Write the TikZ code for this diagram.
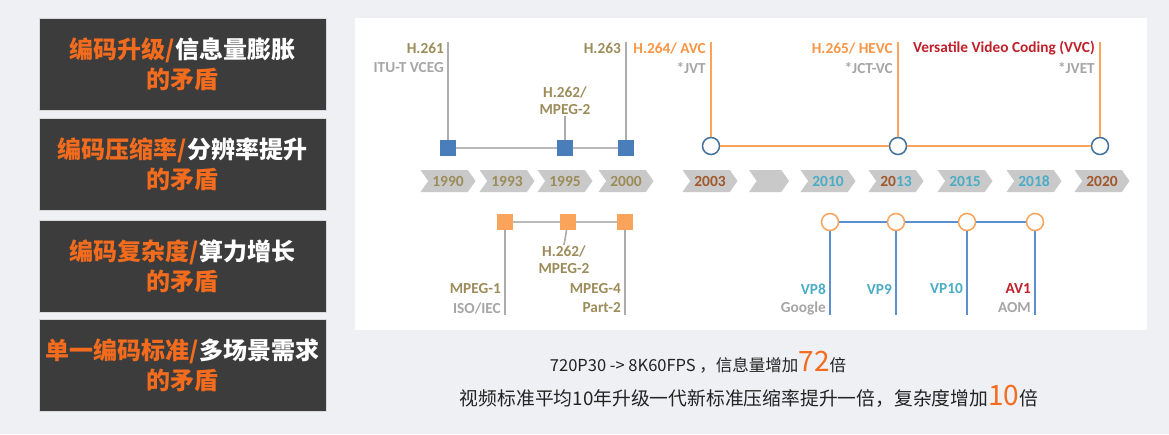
\documentclass[tikz,border=0pt]{standalone}
\usepackage{fontspec}
\setmainfont{Carlito}
\newfontfamily\cjk{Noto Sans CJK SC}
\usetikzlibrary{
    shapes.symbols,
    positioning,
    calc,
}
\definecolor{pagebg}{HTML}{EEF0F3}
\definecolor{boxgray}{HTML}{3C3C3C}
\definecolor{hiorange}{HTML}{F36C1E}
\definecolor{tlorange}{HTML}{F9A35B}
\definecolor{lblorange}{HTML}{F79646}
\definecolor{sqblue}{HTML}{4A7EBB}
\definecolor{circblue}{HTML}{41719C}
\definecolor{lineblue}{HTML}{5B8FD0}
\definecolor{olive}{HTML}{9C8C5A}
\definecolor{yrbrown}{HTML}{A0582D}
\definecolor{yrblue}{HTML}{4BACC6}
\definecolor{chevgray}{HTML}{C9C9C9}
\definecolor{vvcred}{HTML}{C0202A}
\definecolor{lblgray}{HTML}{A6A6A6}
\definecolor{bodytext}{HTML}{222222}

\begin{document}
\begin{tikzpicture}[
    x=1pt, y=-1pt,
    issue/.style = {rectangle, fill=boxgray, draw=gray!30, inner sep=0pt,
                    minimum width=287pt, minimum height=92pt,
                    align=center, text=white,
                    font=\cjk\bfseries\fontsize{24}{30}\selectfont},
    bsq/.style   = {rectangle, fill=sqblue, minimum size=16pt, inner sep=0pt},
    osq/.style   = {rectangle, fill=tlorange, minimum size=16pt, inner sep=0pt},
    bcirc/.style = {circle, draw=circblue, fill=white, line width=1.5pt,
                    minimum size=17pt, inner sep=0pt},
    ocirc/.style = {circle, draw=tlorange, fill=white, line width=1.5pt,
                    minimum size=17pt, inner sep=0pt},
    yr/.style    = {signal, signal to=east, signal from=west, fill=chevgray,
                    minimum width=55pt, minimum height=22pt, inner sep=0pt,
                    signal pointer angle=110,
                    font=\bfseries\fontsize{15.5}{15.5}\selectfont},
    lbl/.style   = {font=\bfseries\fontsize{15.3}{17}\selectfont, inner sep=1pt},
    gstem/.style = {line width=1.6pt, gray!65},
    ostem/.style = {line width=2pt, tlorange},
    lstem/.style = {line width=2pt, lineblue},
]
\useasboundingbox (0,0) rectangle (1169,434);
\fill[pagebg] (0,0) rectangle (1169,434);

%% ── Left column: four conflicts ─────────────────────────────────────────────
\node[issue] (c1) at (182.5,  64.0) {{\color{hiorange}编码升级/}信息量膨胀\\{\color{hiorange}的矛盾}};
\node[issue] (c2) at (182.5, 164.5) {{\color{hiorange}编码压缩率/}分辨率提升\\{\color{hiorange}的矛盾}};
\node[issue] (c3) at (182.5, 266.0) {{\color{hiorange}编码复杂度/}算力增长\\{\color{hiorange}的矛盾}};
\node[issue] (c4) at (182.5, 365.0) {{\color{hiorange}单一编码标准/}多场景需求\\{\color{hiorange}的矛盾}};

%% ── Timeline panel ───────────────────────────────────────────────────────────
\fill[white] (355,18) rectangle (1147,330);

%% ── Year chevrons ────────────────────────────────────────────────────────────
\node[yr, text=olive]  (y90) at ( 448,181) {1990};
\node[yr, text=olive]  (y93) at ( 507,181) {1993};
\node[yr, text=olive]  (y95) at ( 565,181) {1995};
\node[yr, text=olive]  (y00) at ( 626,181) {2000};
\node[yr, text=yrbrown](y03) at ( 710,181) {2003};
\node[yr, minimum width=40pt] (ygap) at (769,181) {};
\node[yr, text=yrblue] (y10) at ( 828,181) {2010};
\node[yr] (y13) at ( 896,181) {{\color{yrbrown}20}{\color{yrblue}13}};
\node[yr, text=yrblue] (y15) at ( 965,181) {2015};
\node[yr, text=yrblue] (y18) at (1034,181) {2018};
\node[yr, text=yrbrown](y20) at (1102,181) {2020};

%% ── ITU-T track (top left) ───────────────────────────────────────────────────
\node[bsq] (s90) at (448,148) {};
\node[bsq] (s95) at (565,148) {};
\node[bsq] (s00) at (626,148) {};
\draw[gray!55, line width=2pt] (s90) -- (s95) -- (s00);
\coordinate (t90) at (448,42);
\coordinate (t00) at (626,42);
\draw[gstem] (s90) -- (t90);
\draw[gstem] (s00) -- (t00);
\node[lbl, text=olive, anchor=east]   (h261) at (445,48) {H.261};
\node[lbl, text=lblgray, anchor=east] (itu)  at (445,68) {ITU-T VCEG};
\node[lbl, text=olive, anchor=east]   (h263) at (622,48) {H.263};
\node[lbl, text=olive, align=center]  (h262) at (565,101) {H.262/\\MPEG-2};
\draw[gstem] (s95) -- (h262.south);

%% ── Joint track (top right) ──────────────────────────────────────────────────
\node[bcirc] (c03) at ( 711,146) {};
\node[bcirc] (c13) at ( 898,146) {};
\node[bcirc] (c20) at (1100,146) {};
\draw[tlorange, line width=2.5pt] (c03) -- (c13) -- (c20);
\coordinate (t03) at ( 711,42);
\coordinate (t13) at ( 898,42);
\coordinate (t20) at (1100,42);
\draw[ostem] (c03) -- (t03);
\draw[ostem] (c13) -- (t13);
\draw[ostem] (c20) -- (t20);
\node[lbl, text=lblorange, anchor=east] (avc)  at ( 707,48) {H.264/ AVC};
\node[lbl, text=lblgray, anchor=east]   (jvt)  at ( 707,68) {*JVT};
\node[lbl, text=lblorange, anchor=east] (hevc) at ( 894,48) {H.265/ HEVC};
\node[lbl, text=lblgray, anchor=east]   (jct)  at ( 894,68) {*JCT-VC};
\node[lbl, text=vvcred, anchor=east]    (vvc)  at (1096,48) {Versatile Video Coding (VVC)};
\node[lbl, text=lblgray, anchor=east]   (jvet) at (1096,68) {*JVET};

%% ── ISO/IEC track (bottom left) ──────────────────────────────────────────────
\node[osq] (m1) at (505,222) {};
\node[osq] (m2) at (568,222) {};
\node[osq] (m4) at (625,222) {};
\draw[gray!55, line width=2pt] (m1) -- (m2) -- (m4);
\coordinate (b1) at (505,315);
\coordinate (b4) at (625,315);
\draw[gstem] (m1) -- (b1);
\draw[gstem] (m4) -- (b4);
\node[lbl, text=olive, align=center]  (mp2)  at (564,260) {H.262/\\MPEG-2};
\draw[gstem] (m2) -- (mp2.north);
\node[lbl, text=olive, anchor=east]   (mp1)  at (502,289) {MPEG-1};
\node[lbl, text=lblgray, anchor=east] (iso)  at (502,308) {ISO/IEC};
\node[lbl, text=olive, anchor=east]   (mp4)  at (622,289) {MPEG-4};
\node[lbl, text=olive, anchor=east]   (pt2)  at (622,308) {Part-2};

%% ── Google / AOM track (bottom right) ────────────────────────────────────────
\node[ocirc] (v8)  at ( 830,222) {};
\node[ocirc] (v9)  at ( 896,222) {};
\node[ocirc] (v10) at ( 967,222) {};
\node[ocirc] (av1) at (1035,222) {};
\draw[lineblue, line width=2pt] (v8) -- (v9) -- (v10) -- (av1);
\foreach \v/\x in {v8/830, v9/896, v10/967, av1/1035}
    \draw[lstem] (\v) -- (\x,315);
\node[lbl, text=yrblue, anchor=east]  (vp8)  at ( 827,289) {VP8};
\node[lbl, text=lblgray, anchor=east] (ggl)  at ( 827,308) {Google};
\node[lbl, text=yrblue, anchor=east]  (vp9)  at ( 893,289) {VP9};
\node[lbl, text=yrblue, anchor=east]  (vp10) at ( 964,289) {VP10};
\node[lbl, text=vvcred, anchor=east]  (a1)   at (1032,289) {AV1};
\node[lbl, text=lblgray, anchor=east] (aom)  at (1032,308) {AOM};

%% ── Summary lines ────────────────────────────────────────────────────────────
\node[font=\cjk\fontsize{16.5}{18}\selectfont, text=bodytext] (sum1) at (698,362)
    {720P30 -> 8K60FPS ，信息量增加{\color{hiorange}\fontsize{28}{28}\selectfont 72}倍};
\node[font=\cjk\fontsize{18.8}{20}\selectfont, text=bodytext] (sum2) at (749,396)
    {视频标准平均10年升级一代新标准压缩率提升一倍，复杂度增加{\color{hiorange}\fontsize{28}{28}\selectfont 10}倍};

\end{tikzpicture}
\end{document}
